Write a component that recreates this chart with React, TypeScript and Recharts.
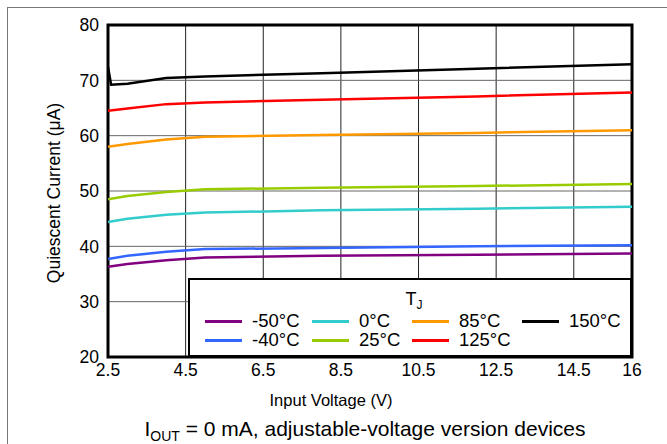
import React from 'react'
import { LineChart, Line, XAxis, YAxis, CartesianGrid, Legend, ReferenceArea } from 'recharts';

// input voltage (V)
const voltages = [2.5, 3, 4, 5, 8, 12, 16]
const xTicks = [2.5, 4.5, 6.5, 8.5, 10.5, 12.5, 14.5, 16]
const yTicks = [20, 30, 40, 50, 60, 70, 80]

// quiescent current (uA) per junction temperature
const iqMinus50 = [36.3, 36.8, 37.5, 38.0, 38.3, 38.5, 38.7]
const iqMinus40 = [37.7, 38.3, 39.0, 39.5, 39.7, 40.0, 40.2]
const iq0 = [44.4, 45.0, 45.7, 46.1, 46.5, 46.8, 47.15]
const iq25 = [48.5, 49.1, 49.8, 50.3, 50.6, 50.9, 51.25]
const iq85 = [58.0, 58.5, 59.3, 59.8, 60.1, 60.5, 61.0]
const iq125 = [64.5, 64.9, 65.7, 66.0, 66.5, 67.1, 67.8]
// 150C has a start-up spike, so it has its own x points
const voltages150 = [2.5, 2.58, 3, 4, 5, 8, 12, 16]
const iq150 = [72.4, 69.2, 69.4, 70.4, 70.7, 71.3, 72.1, 72.9]

const toPoints = (xs: number[], ys: number[]) => xs.map((v, i) => ({ v, iq: ys[i] }))

const series = [
    { name: '-50°C', color: '#800080', data: toPoints(voltages, iqMinus50) },
    { name: '-40°C', color: '#3366ff', data: toPoints(voltages, iqMinus40) },
    { name: '0°C', color: '#33cccc', data: toPoints(voltages, iq0) },
    { name: '25°C', color: '#99cc00', data: toPoints(voltages, iq25) },
    { name: '85°C', color: '#ff9900', data: toPoints(voltages, iq85) },
    { name: '125°C', color: '#ff0000', data: toPoints(voltages, iq125) },
    { name: '150°C', color: '#000000', data: toPoints(voltages150, iq150) },
]

const font = '"Liberation Sans", Arial, sans-serif'
const colX = [15, 122, 222, 332]

function LegendBox({ payload }: any) {
    // keep the series order (legend payload comes back sorted by name)
    const items = series
        .map(s => (payload || []).find((p: any) => p.value === s.name))
        .filter(Boolean)
    return (
        <div style={{ position: 'relative', width: 444, height: 79, boxSizing: 'border-box', border: '2px solid #000', background: '#fff', fontFamily: font, fontSize: 18.5, color: '#000' }}>
            <div style={{ position: 'absolute', left: 224, top: 20, transform: 'translate(-50%,-50%)', whiteSpace: 'nowrap', fontSize: 18 }}>
                T<sub style={{ fontSize: 12, verticalAlign: -4 }}>J</sub>
            </div>
            {items.map((p: any, i: number) => {
                const col = Math.floor(i / 2)
                const row = i % 2
                return (
                    <div key={p.value} style={{ position: 'absolute', left: colX[col], top: (row === 0 ? 41 : 60) - 11, height: 22, display: 'flex', alignItems: 'center', whiteSpace: 'nowrap' }}>
                        <span style={{ display: 'inline-block', width: 37, height: 3, background: p.color, marginRight: 10 }} />
                        <span>{p.value}</span>
                    </div>
                )
            })}
        </div>
    )
}

export default function App() {
    return (
        <div style={{ position: 'absolute', left: 0, top: 0, width: 667, height: 444, background: '#fff', fontFamily: font }}>
            <div style={{ position: 'absolute', left: 8, top: 7, width: 659, height: 1, background: '#777' }} />
            <div style={{ position: 'absolute', left: 7, top: 7, width: 1, height: 437, background: '#777' }} />
            <LineChart width={667} height={444} margin={{ top: 25, right: 35, left: 48, bottom: 57 }}>
                <CartesianGrid horizontal={false} stroke='#222' strokeWidth={1} verticalValues={xTicks} />
                <CartesianGrid vertical={false} stroke='#666' strokeWidth={1} horizontalValues={yTicks} />
                <XAxis
                    type='number'
                    dataKey='v'
                    domain={[2.5, 16]}
                    ticks={xTicks}
                    allowDataOverflow
                    axisLine={false}
                    tickLine={false}
                    tickSize={0}
                    tickMargin={7}
                    height={30}
                    tick={{ fill: '#000', fontSize: 17.5, fontFamily: font }}
                />
                <YAxis
                    type='number'
                    domain={[20, 80]}
                    ticks={yTicks}
                    axisLine={false}
                    tickLine={false}
                    tickSize={0}
                    tickMargin={9}
                    width={60}
                    tick={{ fill: '#000', fontSize: 17.5, fontFamily: font }}
                />
                {series.map(s => (
                    <Line
                        key={s.name}
                        data={s.data}
                        dataKey='iq'
                        name={s.name}
                        stroke={s.color}
                        strokeWidth={2.5}
                        dot={false}
                        isAnimationActive={false}
                        type='linear'
                    />
                ))}
                <ReferenceArea x1={2.5} x2={16} y1={20} y2={80} fill='none' stroke='#000' strokeWidth={3} ifOverflow='visible' />
                <Legend
                    layout='horizontal'
                    verticalAlign='middle'
                    align='center'
                    content={<LegendBox />}
                    wrapperStyle={{ left: 188, top: 278, width: 444, height: 79 }}
                />
            </LineChart>
            <div style={{ position: 'absolute', left: 54, top: 193, transform: 'translate(-50%,-50%) rotate(-90deg)', fontSize: 17.5, whiteSpace: 'nowrap' }}>
                Quiescent Current (μA)
            </div>
            <div style={{ position: 'absolute', left: 331, top: 400, transform: 'translate(-50%,-50%)', fontSize: 16.5, whiteSpace: 'nowrap' }}>
                Input Voltage (V)
            </div>
            <div style={{ position: 'absolute', left: 365, top: 430, transform: 'translate(-50%,-50%)', fontSize: 21, whiteSpace: 'nowrap' }}>
                I<sub style={{ fontSize: 14, verticalAlign: -5 }}>OUT</sub> = 0 mA, adjustable-voltage version devices
            </div>
        </div>
    )
}
